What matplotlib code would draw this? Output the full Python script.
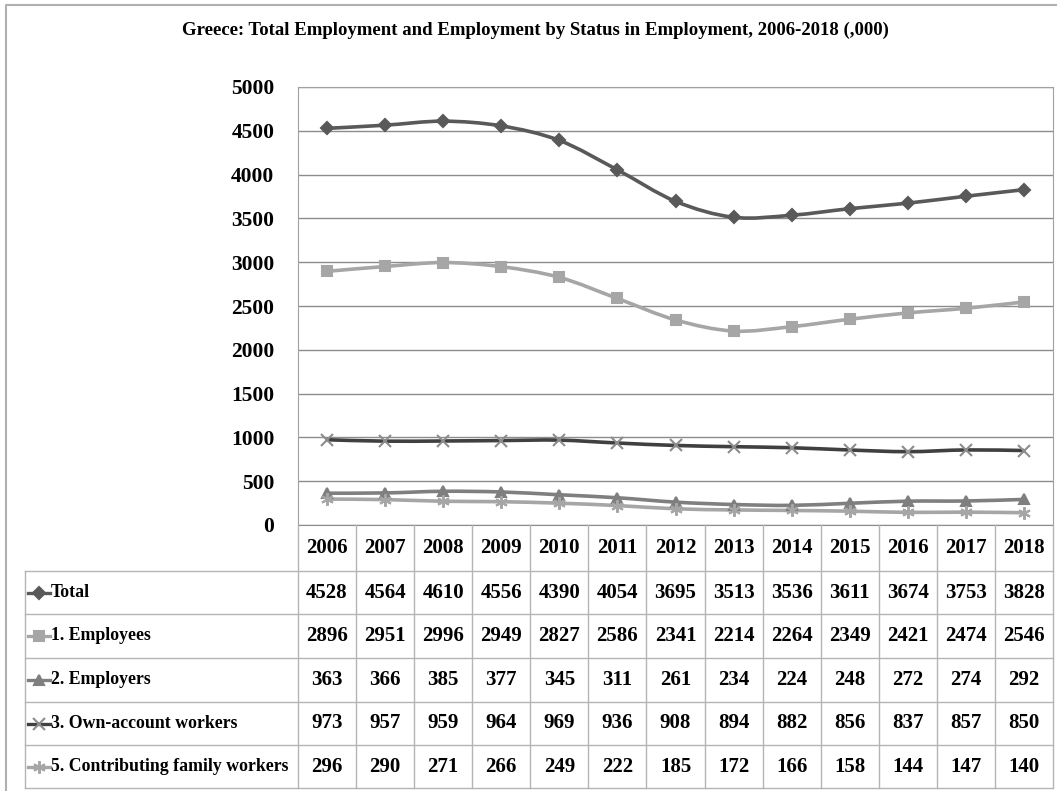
import matplotlib.pyplot as plt
import matplotlib.transforms as mtransforms
from matplotlib.path import Path
from matplotlib.patches import PathPatch, Rectangle
from matplotlib.lines import Line2D
import numpy as np

years = [2006, 2007, 2008, 2009, 2010, 2011, 2012, 2013, 2014, 2015, 2016, 2017, 2018]
total = [4528, 4564, 4610, 4556, 4390, 4054, 3695, 3513, 3536, 3611, 3674, 3753, 3828]
employees = [2896, 2951, 2996, 2949, 2827, 2586, 2341, 2214, 2264, 2349, 2421, 2474, 2546]
employers = [363, 366, 385, 377, 345, 311, 261, 234, 224, 248, 272, 274, 292]
own_account = [973, 957, 959, 964, 969, 936, 908, 894, 882, 856, 837, 857, 850]
family = [296, 290, 271, 266, 249, 222, 185, 172, 166, 158, 144, 147, 140]

labels = ["Total", "1. Employees", "2. Employers", "3. Own-account workers",
          "5. Contributing family workers"]
series = [total, employees, employers, own_account, family]
y_ticks = list(range(0, 5001, 500))

# style per series: line colour, marker, marker colour, marker size
styles = [
    ("#595959", "D", "#595959", 6),
    ("#a6a6a6", "s", "#a6a6a6", 6.5),
    ("#7f7f7f", "^", "#7f7f7f", 7),
    ("#404040", "x", "#8c8c8c", 8),
    ("#a6a6a6", (6, 2, 0), "#a6a6a6", 9),
]

W, H = 1058, 791
FONT = "Liberation Serif"


def fy(py):
    return 1 - py / H


def fx(px):
    return px / W


def smooth_path(xs, ys):
    # Bezier path through the points (Catmull-Rom style), like Excel's smoothed lines
    pts = np.column_stack([xs, ys]).astype(float)
    verts = [pts[0]]
    codes = [Path.MOVETO]
    n = len(pts)
    for i in range(n - 1):
        p0 = pts[max(i - 1, 0)]
        p1 = pts[i]
        p2 = pts[i + 1]
        p3 = pts[min(i + 2, n - 1)]
        c1 = p1 + (p2 - p0) / 6
        c2 = p2 - (p3 - p1) / 6
        verts += [c1, c2, p2]
        codes += [Path.CURVE4] * 3
    return Path(verts, codes)


fig = plt.figure(figsize=(W / 100, H / 100), dpi=100)

# outer border (left and top edges visible in the reference)
fig.add_artist(Line2D([fx(6), fx(6), fx(1056)], [fy(791), fy(5), fy(5)],
                      color="#b0b0b0", lw=1.5))

left, right, top, bottom = 298, 1053, 87, 525
ax = fig.add_axes([fx(left), fy(bottom), fx(right - left), fy(top) - fy(bottom)])
x = np.arange(len(years))
ax.set_xlim(-0.5, len(years) - 0.5)
ax.set_ylim(0, 5000)
ax.set_yticks(y_ticks)
ax.set_yticklabels([str(t) for t in y_ticks], fontfamily=FONT, fontweight="bold", fontsize=15.5)
ax.set_xticks([])
ax.tick_params(axis="y", length=0, pad=17)
ax.grid(axis="y", color="#8c8c8c", lw=1)
ax.set_axisbelow(True)
for s in ax.spines.values():
    s.set_color("#a0a0a0")
ax.spines["bottom"].set_color("#8c8c8c")

for vals, (lc, mk, mc, ms) in zip(series, styles):
    path = smooth_path(x, vals)
    ax.add_patch(PathPatch(path, facecolor="none", edgecolor=lc, lw=2.6, zorder=3))
    ax.plot(x, vals, linestyle="none", marker=mk, color=mc, markersize=ms,
            markeredgewidth=1.5, zorder=4)

fig.text(fx(535), fy(30), "Greece: Total Employment and Employment by Status in Employment, 2006-2018 (,000)",
         ha="center", va="center", fontfamily=FONT, fontweight="bold", fontsize=13.5)

# data table under the axis
tx = mtransforms.blended_transform_factory(ax.transData, fig.transFigure)
row_edges = [525, 571, 614, 658, 702, 745, 788]
grid_c = "#b4b4b4"
for yy in row_edges[1:]:
    fig.add_artist(Line2D([fx(25), fx(right)], [fy(yy), fy(yy)], color=grid_c, lw=1))
fig.add_artist(Line2D([fx(25), fx(25)], [fy(571), fy(788)], color=grid_c, lw=1))
for k in range(len(years) + 1):
    xv = k - 0.5
    fig.add_artist(Line2D([xv, xv], [fy(525), fy(788)], color=grid_c, lw=1, transform=tx))

hdr_y = fy((row_edges[0] + row_edges[1]) / 2)
for i, yr in enumerate(years):
    fig.text(i, hdr_y, str(yr), transform=tx, ha="center", va="center",
             fontfamily=FONT, fontweight="bold", fontsize=15)

for r, (lab, vals, (lc, mk, mc, ms)) in enumerate(zip(labels, series, styles)):
    yc = fy((row_edges[r + 1] + row_edges[r + 2]) / 2)
    fig.add_artist(Line2D([fx(28), fx(50)], [yc, yc], color=lc, lw=2.4))
    fig.add_artist(Line2D([fx(39)], [yc], marker=mk, color=mc, markersize=ms,
                          markeredgewidth=1.5, linestyle="none"))
    fig.text(fx(51), yc, lab, ha="left", va="center", fontfamily=FONT,
             fontweight="bold", fontsize=12.8)
    for i, v in enumerate(vals):
        fig.text(i, yc, str(v), transform=tx, ha="center", va="center",
                 fontfamily=FONT, fontweight="bold", fontsize=15)

fig.savefig("out.png", dpi=100)
